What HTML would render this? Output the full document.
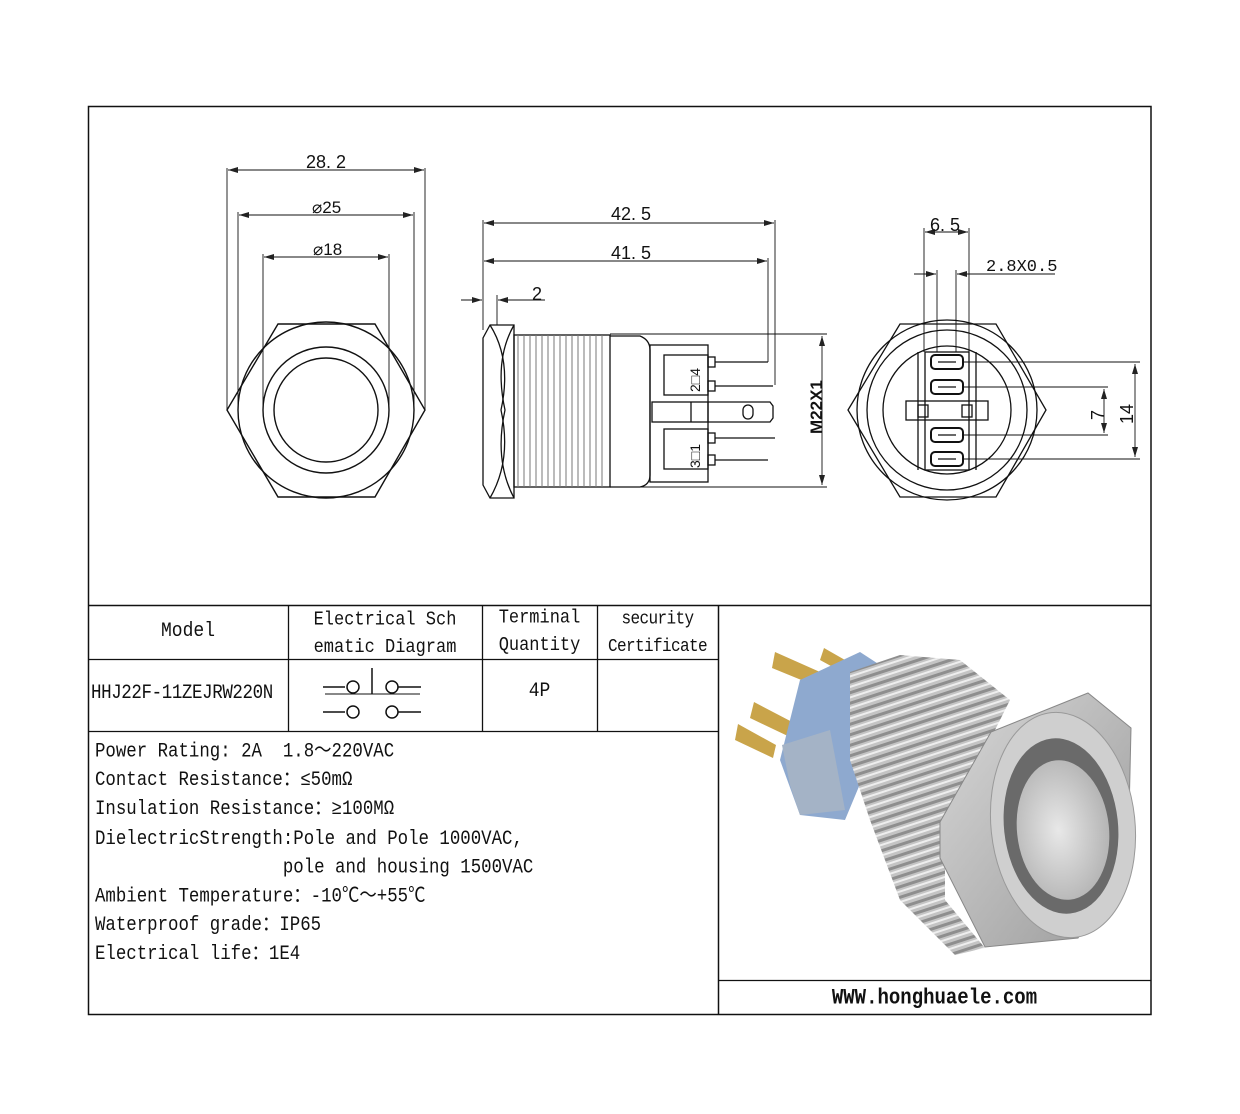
<!DOCTYPE html>
<html><head><meta charset="utf-8"><style>
body{margin:0;background:#fff;width:1240px;height:1114px;overflow:hidden;position:relative;font-family:"Liberation Mono","Noto Sans CJK SC",monospace;color:#111}
.t{position:absolute;white-space:pre;font-size:17.5px;line-height:20px;transform-origin:0 0}
.c{text-align:center}
.s{transform:scaleY(1.15)}
</style></head><body>
<svg width="1240" height="1114" style="position:absolute;left:0;top:0" xmlns="http://www.w3.org/2000/svg">
<defs>
<marker id="a" viewBox="0 0 10 6" refX="10" refY="3" markerWidth="10" markerHeight="6" orient="auto-start-reverse" markerUnits="userSpaceOnUse"><path d="M0,0L10,3L0,6z" fill="#222"/></marker>
<radialGradient id="face" cx="0.45" cy="0.5" r="0.6"><stop offset="0" stop-color="#e8e8e8"/><stop offset="1" stop-color="#b0b0b0"/></radialGradient>
<linearGradient id="hexg" x1="0" y1="0" x2="1" y2="1"><stop offset="0" stop-color="#d8d8d8"/><stop offset="1" stop-color="#9a9a9a"/></linearGradient>
<pattern id="thr" width="10" height="10" patternUnits="userSpaceOnUse" patternTransform="rotate(-18)"><rect width="10" height="10" fill="#c4c4c4"/><rect width="10" height="3" fill="#8e8e8e"/><rect y="5" width="10" height="2" fill="#eeeeee"/></pattern>
</defs>
<g fill="none" stroke="#111" stroke-width="1.3">
<rect x="88.5" y="106.5" width="1062.5" height="908" stroke-width="1.5"/>
<line x1="88" y1="605.5" x2="1151" y2="605.5" stroke-width="1.5"/>
<line x1="88" y1="659.5" x2="718" y2="659.5"/>
<line x1="88" y1="731.5" x2="718" y2="731.5"/>
<line x1="288.5" y1="605" x2="288.5" y2="731"/>
<line x1="482.5" y1="605" x2="482.5" y2="731"/>
<line x1="597.5" y1="605" x2="597.5" y2="731"/>
<line x1="718.5" y1="605" x2="718.5" y2="1014" stroke-width="1.5"/>
<line x1="718" y1="980.5" x2="1151" y2="980.5"/>

<g stroke-width="1.4">
<polygon points="227,410 278,324 375,324 425,410 375,497 278,497"/>
<circle cx="326" cy="410" r="88"/>
<circle cx="326" cy="410" r="63"/>
<circle cx="326" cy="410" r="52"/>
</g>
<g stroke-width="0.9">
<line x1="227" y1="168" x2="227" y2="410"/><line x1="425" y1="168" x2="425" y2="410"/>
<line x1="228" y1="170" x2="424" y2="170" marker-start="url(#a)" marker-end="url(#a)"/>
<line x1="238" y1="212" x2="238" y2="405"/><line x1="414" y1="212" x2="414" y2="405"/>
<line x1="239" y1="215" x2="413" y2="215" marker-start="url(#a)" marker-end="url(#a)"/>
<line x1="263" y1="254" x2="263" y2="405"/><line x1="389" y1="254" x2="389" y2="405"/>
<line x1="264" y1="257" x2="388" y2="257" marker-start="url(#a)" marker-end="url(#a)"/>
</g>

<g stroke-width="1.3">
<path d="M490,325 L514,325 L514,498 L490,498 L483,485 L483,338 Z"/>
<path d="M490,325 Q512,360 501,410 Q512,460 490,498"/>
<path d="M514,325 Q494,360 505,410 Q494,460 514,498"/>
<rect x="514" y="335" width="96" height="152"/>
<path d="M610,336 L640,336 Q650,340 650,350 L650,475 Q650,485 640,487 L610,487"/>
<rect x="650" y="345" width="58" height="137"/>
<rect x="664" y="355" width="44" height="40"/>
<rect x="664" y="429" width="44" height="40"/>
<rect x="652" y="402" width="56" height="20"/>
<line x1="691" y1="402" x2="691" y2="422"/>
<path d="M708,402 L770,402 L773,406 L773,418 L770,422 L708,422"/>
<rect x="708" y="357" width="7" height="10"/><rect x="708" y="381" width="7" height="10"/>
<rect x="708" y="433" width="7" height="10"/><rect x="708" y="455" width="7" height="10"/>
<line x1="715" y1="362" x2="768" y2="362"/><line x1="715" y1="386" x2="773" y2="386"/>
<line x1="715" y1="438" x2="775" y2="438"/><line x1="715" y1="460" x2="768" y2="460"/>
<rect x="743" y="405" width="10" height="14" rx="5"/>
</g>
<g stroke="#777" stroke-width="1">
<path d="M518,335 L518,487 M524,335 L524,487 M530,335 L530,487 M536,335 L536,487 M542,335 L542,487 M548,335 L548,487 M554,335 L554,487 M560,335 L560,487 M566,335 L566,487 M572,335 L572,487 M578,335 L578,487 M584,335 L584,487 M590,335 L590,487 M596,335 L596,487 M602,335 L602,487"/>
</g>
<g stroke-width="0.9">
<line x1="483" y1="220" x2="483" y2="330"/>
<line x1="775" y1="220" x2="775" y2="385"/>
<line x1="484" y1="223" x2="774" y2="223" marker-start="url(#a)" marker-end="url(#a)"/>
<line x1="768" y1="258" x2="768" y2="362"/>
<line x1="484" y1="261" x2="767" y2="261" marker-start="url(#a)" marker-end="url(#a)"/>
<line x1="497" y1="295" x2="497" y2="325"/>
<line x1="461" y1="300" x2="482" y2="300" marker-end="url(#a)"/>
<line x1="545" y1="300" x2="498" y2="300" marker-end="url(#a)"/>
<line x1="610" y1="334" x2="827" y2="334"/><line x1="610" y1="487" x2="827" y2="487"/>
<line x1="822" y1="336" x2="822" y2="485" marker-start="url(#a)" marker-end="url(#a)"/>
</g>

<g stroke-width="1.3">
<polygon points="848,410 900,324 996,324 1046,410 996,497 900,497"/>
<circle cx="947" cy="410" r="90"/>
<circle cx="947" cy="410" r="80"/>
<circle cx="947" cy="410" r="64"/>
<rect x="925" y="352" width="44" height="118"/>
<line x1="918" y1="352" x2="918" y2="470"/><line x1="976" y1="352" x2="976" y2="470"/>
<rect x="906" y="401" width="82" height="19"/>
<rect x="918" y="405" width="10" height="12"/><rect x="962" y="405" width="10" height="12"/>
<rect x="931" y="355" width="32" height="14" rx="4" stroke-width="2"/>
<rect x="931" y="380" width="32" height="14" rx="4" stroke-width="2"/>
<rect x="931" y="428" width="32" height="14" rx="4" stroke-width="2"/>
<rect x="931" y="452" width="32" height="14" rx="4" stroke-width="2"/>
<line x1="938" y1="362" x2="956" y2="362"/><line x1="938" y1="387" x2="956" y2="387"/>
<line x1="938" y1="435" x2="956" y2="435"/><line x1="938" y1="459" x2="956" y2="459"/>
</g>
<g stroke-width="0.9">
<line x1="924" y1="228" x2="924" y2="352"/><line x1="937" y1="270" x2="937" y2="352"/>
<line x1="956" y1="270" x2="956" y2="352"/><line x1="969" y1="228" x2="969" y2="352"/>
<line x1="925" y1="232" x2="968" y2="232" marker-start="url(#a)" marker-end="url(#a)"/>
<line x1="914" y1="274" x2="936" y2="274" marker-end="url(#a)"/>
<line x1="1055" y1="274" x2="957" y2="274" marker-end="url(#a)"/>
<line x1="963" y1="362" x2="1140" y2="362"/><line x1="963" y1="459" x2="1140" y2="459"/>
<line x1="963" y1="387" x2="1108" y2="387"/><line x1="963" y1="435" x2="1108" y2="435"/>
<line x1="1135" y1="364" x2="1135" y2="457" marker-start="url(#a)" marker-end="url(#a)"/>
<line x1="1104" y1="389" x2="1104" y2="433" marker-start="url(#a)" marker-end="url(#a)"/>
</g>

<g stroke-width="1.5">
<line x1="323" y1="687" x2="345" y2="687"/><circle cx="353" cy="687" r="6"/>
<line x1="372" y1="668" x2="372" y2="694"/>
<circle cx="392" cy="687" r="6"/><line x1="398" y1="687" x2="421" y2="687"/>
<line x1="325" y1="694" x2="420" y2="694" stroke-width="1"/>
<line x1="323" y1="712" x2="345" y2="712"/><circle cx="353" cy="712" r="6"/>
<circle cx="392" cy="712" r="6"/><line x1="398" y1="712" x2="421" y2="712"/>
</g>
</g>

<!-- photo -->
<g>
<polygon points="820,660 824,648 866,672 860,682" fill="#c9a44a"/>
<polygon points="772,668 775,652 820,672 816,686" fill="#c9a44a"/>
<polygon points="750,718 754,702 796,724 792,738" fill="#c9a44a"/>
<polygon points="735,740 738,724 776,745 773,758" fill="#c9a44a"/>
<polygon points="800,680 860,652 880,665 870,760 845,820 800,815 780,760 790,720" fill="#8ea9cf"/>
<polygon points="782,745 830,730 845,810 800,815 790,785" fill="#a4b3c6"/>
<polygon points="850,672 900,655 960,660 1010,700 990,740 945,820 945,900 985,948 955,955 900,900 870,820 850,760" fill="url(#thr)"/>
<polygon points="991,732 1088,693 1131,728 1128,858 1078,938 985,947 940,858 940,822" fill="url(#hexg)" stroke="#888"/>
<ellipse cx="1063" cy="825" rx="72" ry="113" transform="rotate(-6 1063 825)" fill="#cfcfcf" stroke="#999"/>
<ellipse cx="1061" cy="826" rx="57" ry="88" transform="rotate(-6 1061 826)" fill="#6a6a6a"/>
<ellipse cx="1063" cy="830" rx="46" ry="70" transform="rotate(-6 1063 830)" fill="url(#face)"/>
</g>
</svg>

<div class="t" style="left:306px;top:152px;font-size:18px;font-family:'Liberation Sans',sans-serif">28. 2</div>
<div class="t" style="left:312px;top:198px;font-size:17px;font-family:'Liberation Sans',sans-serif">⌀25</div>
<div class="t" style="left:313px;top:240px;font-size:17px;font-family:'Liberation Sans',sans-serif">⌀18</div>
<div class="t" style="left:611px;top:204px;font-size:18px;font-family:'Liberation Sans',sans-serif">42. 5</div>
<div class="t" style="left:611px;top:243px;font-size:18px;font-family:'Liberation Sans',sans-serif">41. 5</div>
<div class="t" style="left:532px;top:284px;font-size:18px;font-family:'Liberation Sans',sans-serif">2</div>
<div class="t" style="left:930px;top:215px;font-size:18px;font-family:'Liberation Sans',sans-serif">6. 5</div>
<div class="t" style="left:986px;top:258px;font-size:17px">2.8X0.5</div>
<div class="t" style="left:807px;top:434px;font-size:17px;font-family:'Liberation Sans',sans-serif;font-weight:bold;transform:rotate(-90deg)">M22X1</div>
<div class="t" style="left:1088px;top:420px;font-size:18px;font-family:'Liberation Sans',sans-serif;transform:rotate(-90deg)">7</div>
<div class="t" style="left:1117px;top:424px;font-size:18px;font-family:'Liberation Sans',sans-serif;transform:rotate(-90deg)">14</div>
<div class="t" style="left:685px;top:392px;font-size:14px;font-family:'Liberation Sans',sans-serif;transform:rotate(-90deg)">2□4</div>
<div class="t" style="left:685px;top:468px;font-size:14px;font-family:'Liberation Sans',sans-serif;transform:rotate(-90deg)">3□1</div>

<div class="t c s" style="left:88px;top:620px;width:200px;font-size:18px">Model</div>
<div class="t c s" style="left:288px;top:607px;width:194px;font-size:17px;line-height:24px">Electrical Sch
ematic Diagram</div>
<div class="t c s" style="left:482px;top:605px;width:115px;font-size:17px;line-height:24px">Terminal
Quantity</div>
<div class="t c s" style="left:597px;top:605px;width:121px;font-size:16px;line-height:24px;letter-spacing:-0.6px">security
Certificate</div>
<div class="t s" style="left:91px;top:682px;font-size:17.5px;letter-spacing:-0.4px">HHJ22F-11ZEJRW220N</div>
<div class="t c s" style="left:482px;top:680px;width:115px;font-size:18px">4P</div>

<div class="t s" style="left:95px;top:738px;font-size:17.4px;line-height:25.2px">Power Rating: 2A  1.8～220VAC
Contact Resistance：≤50mΩ
Insulation Resistance：≥100MΩ
DielectricStrength:Pole and Pole 1000VAC,
                  pole and housing 1500VAC
Ambient Temperature：-10℃～+55℃
Waterproof grade：IP65
Electrical life：1E4</div>
<div class="t c s" style="left:718px;top:986px;width:433px;font-size:19px;font-weight:bold">WWW.honghuaele.com</div>
</body></html>
